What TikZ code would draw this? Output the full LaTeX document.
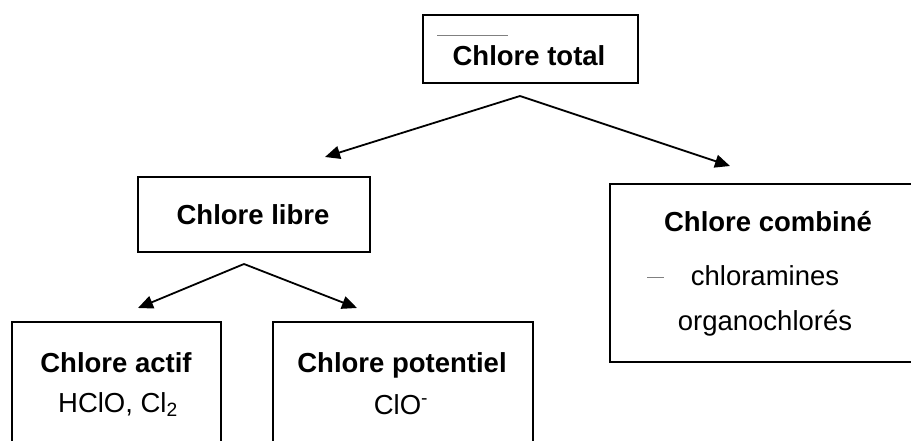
\documentclass[tikz,border=0pt]{standalone}
\usepackage{fontspec}
\setmainfont{Liberation Sans}
\usetikzlibrary{arrows.meta}
\begin{document}
\begin{tikzpicture}[x=1pt,y=-1pt,
  box/.style={draw, line width=1.6pt, inner sep=0pt, anchor=north west},
  bold/.style={font=\fontsize{27.5}{33}\selectfont\bfseries, anchor=base, inner sep=0pt},
  reg/.style={font=\fontsize{27.5}{33}\selectfont, anchor=base, inner sep=0pt},
  arr/.style={-{Triangle[length=15pt,width=13pt]}, line width=1.8pt},
  strayline/.style={draw=gray, line width=1pt}]
\useasboundingbox (0,0) rectangle (911,441);
\clip (0,0) rectangle (911,441);
% boxes
\node[box, minimum width=215pt, minimum height=68pt] (total) at (422,14) {};
\node[box, minimum width=232pt, minimum height=75pt] (libre) at (137,176) {};
\node[box, minimum width=330pt, minimum height=178pt] (combine) at (609,183) {};
\node[box, minimum width=209pt, minimum height=150pt] (actif) at (11,321) {};
\node[box, minimum width=260pt, minimum height=150pt] (potentiel) at (272,321) {};
% texts
\node[bold] (tTotal) at (529,66) {Chlore total};
\node[bold] (tLibre) at (253,225) {Chlore libre};
\node[bold] (tCombine) at (768,231) {Chlore combiné};
\node[reg] (tChloram) at (765,285) {chloramines};
\node[reg] (tOrgano) at (765,330) {organochlorés};
\node[bold] (tActif) at (116,372) {Chlore actif};
\node[reg] (tActifSub) at (118,412) {HClO, Cl\textsubscript{2}};
\node[bold] (tPot) at (402,372) {Chlore potentiel};
\node[reg] (tPotSub) at (401,414) {ClO\textsuperscript{-}};
% small marks
\coordinate (m1a) at (437,36); \coordinate (m1b) at (508,36);
\draw[strayline] (m1a) -- (m1b);
\coordinate (m2a) at (647,277); \coordinate (m2b) at (664,277);
\draw[strayline] (m2a) -- (m2b);
% arrows
\coordinate (a1) at (520,96);
\coordinate (l1) at (325,157);
\coordinate (r1) at (730,166);
\coordinate (a2) at (244,264);
\coordinate (l2) at (138,308);
\coordinate (r2) at (357,308);
\draw[arr] (a1) -- (l1);
\draw[arr] (a1) -- (r1);
\draw[arr] (a2) -- (l2);
\draw[arr] (a2) -- (r2);
\end{tikzpicture}
\end{document}
